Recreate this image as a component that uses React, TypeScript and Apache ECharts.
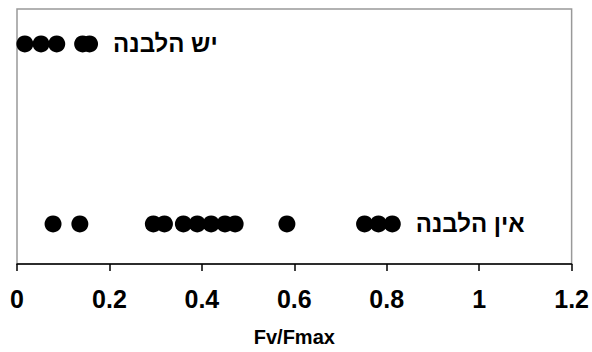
import React, { useEffect, useRef } from "react";
import * as echarts from "echarts";

const xTicks = [0, 0.2, 0.4, 0.6, 0.8, 1, 1.2];
const withBleach = [0.017, 0.052, 0.086, 0.142, 0.157];
const withoutBleach = [0.078, 0.136, 0.295, 0.319, 0.36, 0.39, 0.42, 0.45, 0.472, 0.584, 0.752, 0.782, 0.812];
const rowLevels = { withBleach: 0.863, withoutBleach: 0.157 };
const labels = { withBleach: "יש הלבנה", withoutBleach: "אין הלבנה" };
const axisName = "Fv/Fmax";

const FONT = "Arial";

function buildSeries(values: number[], level: number, text: string) {
  const maxV = Math.max(...values);
  return {
    type: "scatter",
    symbol: "circle",
    symbolSize: 17,
    itemStyle: { color: "#000", opacity: 1 },
    data: values.map((v) => ({
      value: [v, level],
      label: v === maxV
        ? {
            show: true,
            position: "right",
            distance: 15,
            formatter: text,
            color: "#000",
            fontFamily: FONT,
            fontWeight: "bold",
            fontSize: 24,
          }
        : { show: false },
    })),
  };
}

export default function App() {
  const ref = useRef<HTMLDivElement>(null);
  useEffect(() => {
    if (!ref.current) return;
    const chart = echarts.init(ref.current, null, { renderer: "svg" });
    chart.setOption({
      animation: false,
      backgroundColor: "#fff",
      grid: {
        left: 17,
        right: 18,
        top: 9,
        bottom: 81,
        show: true,
        borderColor: "#999",
        borderWidth: 1.5,
      },
      xAxis: {
        type: "value",
        min: xTicks[0],
        max: xTicks[xTicks.length - 1],
        interval: 0.2,
        name: axisName,
        nameLocation: "middle",
        nameGap: 63,
        nameTextStyle: {
          color: "#000",
          fontFamily: FONT,
          fontWeight: "bold",
          fontSize: 20,
        },
        axisLine: { show: true, lineStyle: { color: "#000", width: 1.5 } },
        axisTick: { show: true, inside: false, length: 7, lineStyle: { color: "#000", width: 1.5 } },
        splitLine: { show: false },
        axisLabel: {
          margin: 22,
          color: "#000",
          fontFamily: FONT,
          fontWeight: "bold",
          fontSize: 25,
          formatter: (v: number) => String(Math.round(v * 10) / 10),
        },
      },
      yAxis: {
        type: "value",
        min: 0,
        max: 1,
        show: false,
      },
      series: [
        buildSeries(withBleach, rowLevels.withBleach, labels.withBleach),
        buildSeries(withoutBleach, rowLevels.withoutBleach, labels.withoutBleach),
      ],
    });
    return () => chart.dispose();
  }, []);
  return (
    <div
      ref={ref}
      style={{ position: "absolute", left: 0, top: 0, width: 592, height: 352 }}
    />
  );
}
